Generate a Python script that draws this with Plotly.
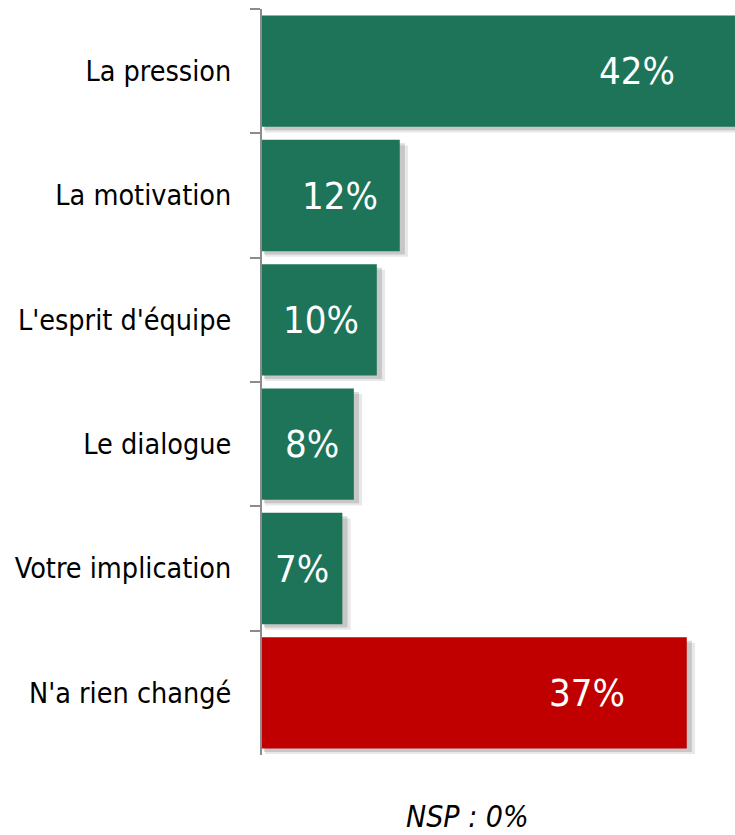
import plotly.graph_objects as go

categories = ["La pression", "La motivation", "L'esprit d'équipe", "Le dialogue",
              "Votre implication", "N'a rien changé"]
values = [42, 12, 10, 8, 7, 37]
labels = ["42%", "12%", "10%", "8%", "7%", "37%"]
bar_colors = ["#1D7459", "#1D7459", "#1D7459", "#1D7459", "#1D7459", "#C00000"]
note = "NSP : 0%"

FONT = "DejaVu Sans Condensed, Tahoma, DejaVu Sans, sans-serif"
W = 0.895

fig = go.Figure()

# soft shadow (two layers)
for dx, dy, alpha in [(0.45, 0.045, 0.09), (0.28, 0.028, 0.14)]:
    fig.add_trace(go.Bar(
        y=categories, x=[v + dx for v in values], base=dx * 0.6, orientation="h",
        width=W, offset=-W / 2 + dy,
        marker=dict(color=f"rgba(0,0,0,{alpha})", line=dict(width=0)),
        hoverinfo="skip", showlegend=False,
    ))

fig.add_trace(go.Bar(
    y=categories, x=values, orientation="h",
    width=W, offset=-W / 2,
    marker=dict(color=bar_colors, line=dict(width=0)),
    showlegend=False,
))

for c, v, t in zip(categories, values, labels):
    fig.add_annotation(
        x=v * 0.86, y=c, xref="x", yref="y", text=t, showarrow=False,
        xanchor="right", yanchor="middle",
        font=dict(family=FONT, size=38, color="white"),
    )

fig.add_annotation(
    x=0.435, y=-80 / 746, xref="paper", yref="paper", text=f"<i>{note}</i>",
    showarrow=False, xanchor="center", yanchor="bottom", borderpad=0,
    font=dict(family=FONT, size=30, color="black"),
)

fig.update_layout(
    width=735, height=835,
    margin=dict(l=262, r=0, t=9, b=80),
    paper_bgcolor="white", plot_bgcolor="white",
    barmode="overlay",
    xaxis=dict(range=[0, 41.2], showgrid=False, zeroline=False,
               showticklabels=False, showline=False, ticks=""),
    yaxis=dict(autorange=False, range=[5.5, -0.5], type="category",
               showline=True, linecolor="#8C8C8C", linewidth=2,
               ticks="outside", tickson="boundaries", ticklen=10,
               tickcolor="#8C8C8C", tickwidth=2,
               ticklabelstandoff=23,
               tickfont=dict(family=FONT, size=28.5, color="black"),
               showgrid=False, zeroline=False),
)

fig.write_html(
    "out.html",
    config={"displayModeBar": False},
    post_script="document.body.style.margin='0';document.body.style.overflow='hidden';",
)
